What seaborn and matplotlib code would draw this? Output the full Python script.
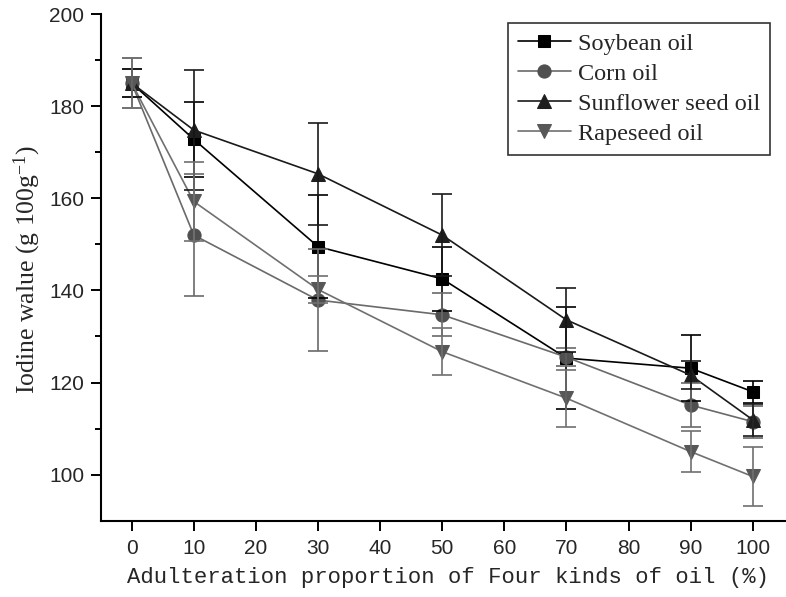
import matplotlib
matplotlib.use("Agg")
import matplotlib.pyplot as plt
import seaborn as sns
import pandas as pd

# ---- data ----
proportion = [0, 10, 30, 50, 70, 90, 100]
series_names = ["Soybean oil", "Corn oil", "Sunflower seed oil", "Rapeseed oil"]
soybean = [185.0, 172.8, 149.5, 142.5, 125.3, 123.1, 118.0]
soybean_err = [3.0, 8.2, 11.2, 7.0, 11.0, 7.2, 2.4]
corn = [185.0, 152.0, 137.9, 134.7, 125.5, 115.1, 111.5]
corn_err = [5.5, 13.2, 11.0, 4.7, 2.0, 4.7, 3.5]
sunflower = [185.0, 174.8, 165.3, 152.0, 133.6, 121.6, 111.9]
sunflower_err = [3.0, 13.0, 11.0, 8.9, 7.0, 3.1, 3.5]
rapeseed = [185.0, 159.3, 140.2, 126.7, 116.6, 105.0, 99.6]
rapeseed_err = [5.5, 8.5, 3.0, 5.1, 6.2, 4.4, 6.5]
x_ticks = [0, 10, 20, 30, 40, 50, 60, 70, 80, 90, 100]
y_ticks = [100, 120, 140, 160, 180, 200]

values = [soybean, corn, sunflower, rapeseed]
errors = [soybean_err, corn_err, sunflower_err, rapeseed_err]

rows = []
for name, vals, errs in zip(series_names, values, errors):
    for p, v, e in zip(proportion, vals, errs):
        rows.append({"proportion": p, "iodine": v, "err": e, "oil": name})
df = pd.DataFrame(rows)

# ---- style ----
sns.set_style("ticks")
plt.rcParams["font.family"] = ["Liberation Sans", "DejaVu Sans"]
plt.rcParams["mathtext.fontset"] = "custom"
plt.rcParams["mathtext.rm"] = "Liberation Serif"
plt.rcParams["mathtext.it"] = "Liberation Serif:italic"

line_colors = {"Soybean oil": "#000000", "Corn oil": "#6a6a6a",
               "Sunflower seed oil": "#1a1a1a", "Rapeseed oil": "#707070"}
marker_colors = {"Soybean oil": "#000000", "Corn oil": "#4f4f4f",
                 "Sunflower seed oil": "#1e1e1e", "Rapeseed oil": "#575757"}
markers = {"Soybean oil": "s", "Corn oil": "o",
           "Sunflower seed oil": "^", "Rapeseed oil": "v"}
msizes = {"Soybean oil": 8, "Corn oil": 9.5,
          "Sunflower seed oil": 10, "Rapeseed oil": 10}

fig = plt.figure(figsize=(7.86, 5.97), dpi=100)
ax = fig.add_axes([101 / 786, 1 - 520.7 / 597, 685 / 786, (520.7 - 14) / 597])

for name in series_names:
    sub = df[df["oil"] == name]
    ax.errorbar(sub["proportion"], sub["iodine"], yerr=sub["err"], fmt="none",
                ecolor=line_colors[name], elinewidth=1.2, capsize=7,
                capthick=1.2, zorder=3)
    sns.lineplot(data=sub, x="proportion", y="iodine", ax=ax,
                 color=line_colors[name], marker=markers[name],
                 markersize=msizes[name], markerfacecolor=marker_colors[name],
                 markeredgecolor=marker_colors[name], linewidth=1.2,
                 label=name, zorder=2, errorbar=None)

ax.set_xlim(-4.94, 105.36)
ax.set_ylim(90, 200)
ax.set_xticks(x_ticks)
ax.set_yticks(y_ticks)
ax.set_yticks([110, 130, 150, 170, 190], minor=True)
ax.set_xlabel("")
ax.set_ylabel("")

for side in ["top", "right"]:
    ax.spines[side].set_visible(False)
for side in ["left", "bottom"]:
    ax.spines[side].set_linewidth(1.5)
    ax.spines[side].set_color("black")

ax.tick_params(axis="both", which="major", length=7.2, width=1.4,
               labelsize=15, direction="out", color="black")
ax.tick_params(axis="y", which="minor", length=4.3, width=1.4, color="black")
ax.tick_params(axis="x", pad=6)
ax.tick_params(axis="y", pad=5)

leg = ax.legend(loc="upper left", bbox_to_anchor=(0.594, 0.982),
                borderaxespad=0, frameon=True, fancybox=False,
                edgecolor="black", handlelength=2.2, handletextpad=0.3,
                labelspacing=0.33, borderpad=0.4,
                prop={"family": "Liberation Serif", "size": 17.5})
leg.get_frame().set_linewidth(1.2)

fig.text(27 / 786, 1 - 270 / 597, r"Iodine walue (g 100g$^{-1}$)",
         rotation=90, ha="center", va="center",
         family="Liberation Serif", fontsize=18.5)
fig.text(448 / 786, 1 - 578 / 597,
         "Adulteration proportion of Four kinds of oil (%)",
         ha="center", va="center", family="Liberation Mono", fontsize=16)

fig.savefig("out.png", dpi=100)
